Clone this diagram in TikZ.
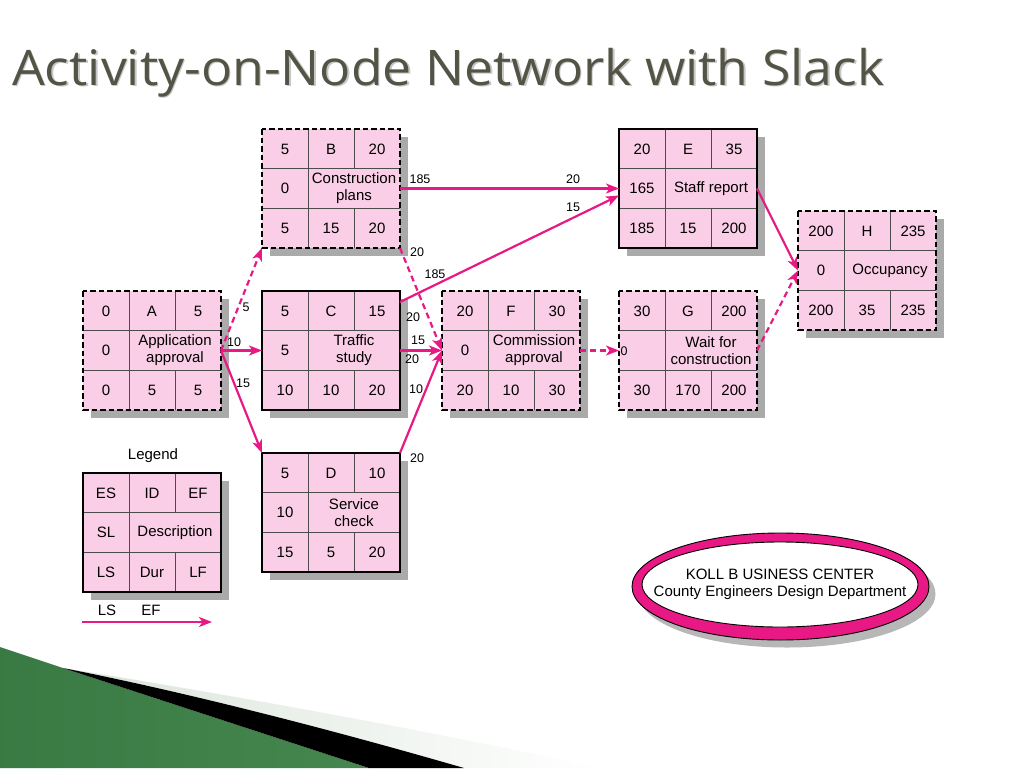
\documentclass[tikz,border=0pt]{standalone}
\usepackage{fontspec}
\setmainfont{Liberation Sans}
\newfontfamily\titlefont{Open Sans}
\usetikzlibrary{arrows.meta,calc}
\definecolor{aonpink}{RGB}{250,206,230}
\definecolor{aonmag}{RGB}{232,24,132}
\definecolor{aonshadow}{RGB}{170,170,170}
\definecolor{titlecol}{RGB}{84,84,70}
\definecolor{gdark}{RGB}{56,120,66}
\definecolor{glight}{RGB}{140,195,140}
\definecolor{gmid}{RGB}{70,135,80}
\definecolor{lightband}{RGB}{218,228,218}
\tikzset{
  boxfill/.style={fill=aonpink, minimum width=138pt, minimum height=119pt, inner sep=0pt, outer sep=0pt},
  solidframe/.style={draw=black, line width=2.2pt},
  dashframe/.style={draw=black, line width=2.2pt, dash pattern=on 5.5pt off 3pt},
  gridline/.style={draw=black!70, line width=0.9pt},
  cell/.style={font=\fontsize{15}{17}\selectfont, inner sep=0pt, align=center},
  elabel/.style={font=\fontsize{12.5}{14}\selectfont, inner sep=0pt},
  conn/.style={draw=aonmag, line width=2.2pt, -{Stealth[length=13pt,width=10pt,inset=3.5pt]}},
  dconn/.style={conn, dash pattern=on 6pt off 4pt},
}
% #1 name, #2 left, #3 top, #4 frame style, #5 ES, #6 ID, #7 EF, #8 SL, #9 description
\newcommand\aonbox[9]{%
  \begin{scope}[shift={(#2,#3)}]
    \fill[aonshadow] (8,8) rectangle (146,127);
    \node[boxfill] (#1) at (69,59.5) {};
    \draw[gridline] (0,39.5) -- (138,39.5) (0,79) -- (138,79)
      (46,0) -- (46,119) (92,0) -- (92,39.5) (92,79) -- (92,119);
    \draw[#4] (0,0) rectangle (138,119);
    \node[cell] (#1-es) at (23,20) {#5};
    \node[cell] (#1-id) at (69,20) {#6};
    \node[cell] (#1-ef) at (115,20) {#7};
    \node[cell] (#1-sl) at (23,59.5) {#8};
    \node[cell] (#1-de) at (92,59.5) {#9};
  \end{scope}}
% #1 name, #2 left, #3 top, #4 LS, #5 Dur, #6 LF
\newcommand\aonbot[6]{%
  \begin{scope}[shift={(#2,#3)}]
    \node[cell] (#1-ls) at (23,99.5) {#4};
    \node[cell] (#1-du) at (69,99.5) {#5};
    \node[cell] (#1-lf) at (115,99.5) {#6};
  \end{scope}}
\begin{document}
\begin{tikzpicture}[x=1pt,y=-1pt]
\useasboundingbox (0,0) rectangle (1024,768);
\fill[white] (0,0) rectangle (1024,768);

% bottom-left decoration
\begin{scope}
  \clip (0,647) -- (63,668) -- (369,768) -- (0,768) -- cycle;
  \shade[left color=gdark, middle color=glight, right color=gmid] (-40,640) rectangle (380,768);
\end{scope}
\shade[left color=lightband, right color=white]
  (63,668) .. controls (250,698) and (450,735) .. (600,768) -- (464,768)
  .. controls (350,735) and (200,695) .. (63,668) -- cycle;
\fill[black] (63,668) .. controls (200,695) and (350,735) .. (464,768) -- (369,768) -- cycle;

% title
\node[anchor=base west, inner sep=0pt, text=black!22, font=\titlefont\fontsize{49}{52}\selectfont] (titleshadow) at (13.5,86.5) {\scalebox{1.057}[1]{Activity-on-Node Network with Slack}};
\node[anchor=base west, inner sep=0pt, text=titlecol, font=\titlefont\fontsize{49}{52}\selectfont] (title) at (12,85) {\scalebox{1.057}[1]{Activity-on-Node Network with Slack}};

% activity boxes
\aonbox{A}{83}{291}{dashframe}{0}{A}{5}{0}{Application\\approval}
\aonbot{A}{83}{291}{0}{5}{5}
\aonbox{B}{262}{129}{dashframe}{5}{B}{20}{0}{Construction\\plans}
\aonbot{B}{262}{129}{5}{15}{20}
\aonbox{C}{262}{291}{solidframe}{5}{C}{15}{5}{Traffic\\study}
\aonbot{C}{262}{291}{10}{10}{20}
\aonbox{D}{262}{453}{solidframe}{5}{D}{10}{10}{Service\\check}
\aonbot{D}{262}{453}{15}{5}{20}
\aonbox{E}{619}{129}{solidframe}{20}{E}{35}{165}{Staff report}
\aonbot{E}{619}{129}{185}{15}{200}
\aonbox{F}{442}{291}{dashframe}{20}{F}{30}{0}{Commission\\approval}
\aonbot{F}{442}{291}{20}{10}{30}
\aonbox{G}{619}{291}{dashframe}{30}{G}{200}{}{Wait for\\construction}
\aonbot{G}{619}{291}{30}{170}{200}
\aonbox{H}{798}{211}{dashframe}{200}{H}{235}{0}{Occupancy}
\aonbot{H}{798}{211}{200}{35}{235}
\aonbox{L}{83}{473}{solidframe}{ES}{ID}{EF}{SL}{Description}
\aonbot{L}{83}{473}{LS}{Dur}{LF}

% connectors
\draw[dconn] (A.east) -- (B.south west);
\draw[conn] (A.east) -- (C.west);
\draw[conn] (A.east) -- (D.north west);
\draw[conn] (B.east) -- (E.west);
\draw[dconn] (B.south east) -- (F.west);
\draw[conn] ($(C.north east)+(0,11)$) -- ($(E.west)+(0,7)$);
\draw[conn] (C.east) -- (F.west);
\draw[conn] (D.north east) -- (F.west);
\draw[dconn] (F.east) -- (G.west);
\draw[conn] (E.east) -- (H.west);
\draw[dconn] (G.east) -- (H.west);

% connector labels
\node[elabel] (l1) at (246,307) {5};
\node[elabel] (l2) at (234,342) {10};
\node[elabel] (l3) at (243,383) {15};
\node[elabel] (l4) at (420,179) {185};
\node[elabel] (l5) at (573,179) {20};
\node[elabel] (l6) at (573,207) {15};
\node[elabel] (l7) at (417,252) {20};
\node[elabel] (l8) at (435,274) {185};
\node[elabel] (l9) at (413,317) {20};
\node[elabel] (l10) at (418,340) {15};
\node[elabel] (l11) at (412,359) {20};
\node[elabel] (l12) at (416,389) {10};
\node[elabel] (l13) at (417,458) {20};
\node[elabel] (l14) at (624,351) {0};

% legend
\node[cell] (legendtitle) at (153,456) {Legend};
\coordinate (lgs) at (82,622);
\coordinate (lge) at (212,622);
\draw[conn] (lgs) -- (lge);
\node[cell] (lgls) at (107,610) {LS};
\node[cell] (lgef) at (151,610) {EF};

% company ellipse
\fill[aonshadow!85] (787,594) ellipse [x radius=148.5pt, y radius=53.5pt];
\draw[fill=aonmag, line width=0.9pt] (780.5,586.5) ellipse [x radius=148.5pt, y radius=53.5pt];
\draw[fill=white, line width=0.9pt] (780,584.5) ellipse [x radius=138pt, y radius=42.5pt];
\node[cell] (koll) at (780,584.5) {KOLL B USINESS CENTER\\County Engineers Design Department};
\end{tikzpicture}
\end{document}
